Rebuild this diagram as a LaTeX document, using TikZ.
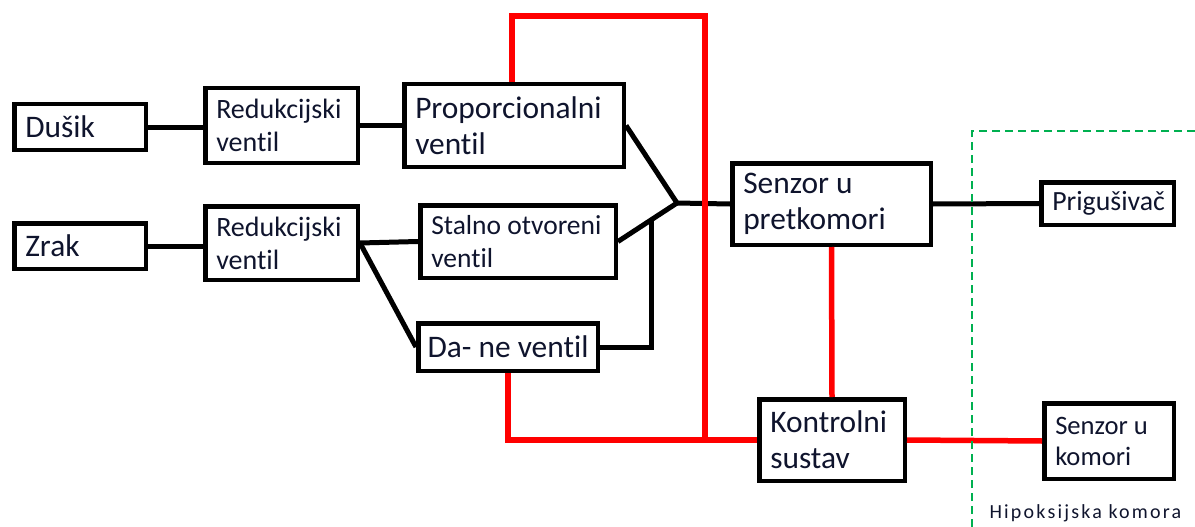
\documentclass[tikz,border=0pt]{standalone}
\usepackage{fontspec}
\setmainfont{Carlito}[Ligatures=NoCommon]
\definecolor{txt}{RGB}{15,20,45}
\definecolor{zonegreen}{RGB}{0,176,80}
\begin{document}
\begin{tikzpicture}[x=1pt,y=-1pt,
  box/.style={draw=black, line width=4.5pt, rectangle, inner xsep=11pt, inner ysep=0pt, align=flush left, text=txt},
  big/.style={font=\fontsize{31.4}{36}\selectfont},
  small/.style={font=\fontsize{28}{33}\selectfont},
  conn/.style={line width=5pt, draw=black},
  ctrl/.style={line width=5.5pt, draw=red},
  zone/.style={line width=2.5pt, draw=zonegreen, dash pattern=on 8pt off 5pt}
]
\useasboundingbox (0,0) rectangle (1195,527);

% boxes
\node[box,big,minimum width=131.5pt,text width=109.5pt,minimum height=45.5pt] (dusik) at (80,127) {Dušik};
\node[box,small,minimum width=152.5pt,text width=130.5pt,minimum height=74.5pt] (red1) at (281.5,125.5) {Redukcijski\\ventil};
\node[box,big,minimum width=219.5pt,text width=197.5pt,minimum height=82.5pt] (prop) at (514,125.5) {Proporcionalni\\ventil};
\node[box,big,minimum width=131.5pt,text width=109.5pt,minimum height=45.5pt] (zrak) at (80,246) {Zrak};
\node[box,small,minimum width=152.5pt,text width=130.5pt,minimum height=73.5pt] (red2) at (281.5,243) {Redukcijski\\ventil};
\node[box,font=\fontsize{27.5}{33}\selectfont,minimum width=195.5pt,text width=173.5pt,minimum height=72.5pt] (stalno) at (518,241.5) {Stalno otvoreni\\ventil};
\node[box,big,align=center,inner xsep=2pt,minimum width=179.5pt,minimum height=47.5pt] (dane) at (508,347) {Da- ne ventil};
\node[box,big,minimum width=198.5pt,text width=176.5pt,minimum height=81.5pt] (senz1) at (831.5,204) {Senzor u\\pretkomori};
\node[box,font=\fontsize{27.8}{32}\selectfont,minimum width=132.5pt,text width=110.5pt,minimum height=42.5pt] (prig) at (1107.5,203.5) {Prigušivač};
\node[box,big,minimum width=145.5pt,text width=123.5pt,minimum height=81.5pt] (kontrol) at (832,440) {Kontrolni\\sustav};
\node[box,font=\fontsize{26.6}{31}\selectfont,minimum width=129.5pt,text width=107.5pt,minimum height=75.5pt] (senz2) at (1109,441) {Senzor u\\komori};

% junction points
\coordinate (J) at (677,203);
\coordinate (K) at (651,221);
\coordinate (RT) at (705,16);
\coordinate (RB) at (705,440);
\coordinate (Z1) at (972,527);
\coordinate (Z2) at (1195,131);

% black connectors
\draw[conn] (dusik.east) -- (dusik.east -| red1.west);
\draw[conn] (red1.east) -- (prop.west);
\draw[conn] (zrak.east) -- (zrak.east -| red2.west);
\draw[conn] (red2.east) -- (stalno.west);
\draw[conn] (red2.east) -- (dane.west);
\draw[conn] (prop.east) -- (J);
\draw[conn] (stalno.east) -- (J);
\draw[conn] (J) -- (senz1.west);
\draw[conn] (dane.east) -| (K);
\draw[conn] (senz1.east) -- (prig.west);

% red control lines
\draw[ctrl] ([xshift=-2pt]prop.north) |- (RT) -- (RB);
\draw[ctrl] (dane.south) |- (kontrol.west);
\draw[ctrl] (senz1.south) -- (kontrol.north);
\draw[ctrl] (kontrol.east) -- (senz2.west);

% chamber boundary
\draw[zone] (Z1) |- (Z2);
\node[anchor=base west, text=txt, font=\fontsize{20}{24}\selectfont\addfontfeature{LetterSpace=11}] (hk) at (986,518) {Hipoksijska komora};
\end{tikzpicture}
\end{document}
